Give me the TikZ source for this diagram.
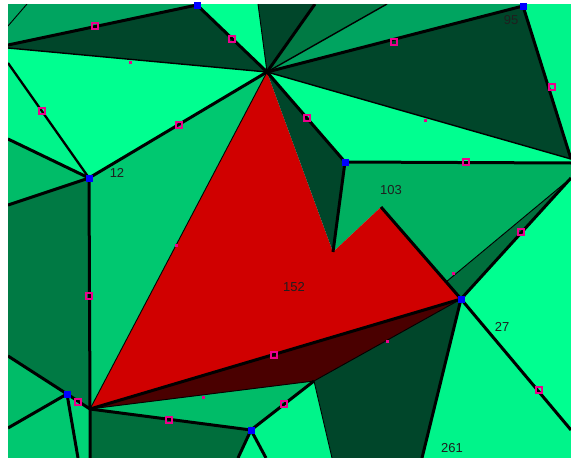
\documentclass[tikz,border=0pt]{standalone}
\usepackage{fontspec}
\setmainfont{Liberation Sans}
\definecolor{lg}{HTML}{00FF90}
\definecolor{lga}{HTML}{00F48A}
\definecolor{mg}{HTML}{00B060}
\definecolor{mga}{HTML}{00A460}
\definecolor{mgb}{HTML}{00C870}
\definecolor{mgc}{HTML}{00BC68}
\definecolor{dg}{HTML}{00462A}
\definecolor{dm}{HTML}{006E3C}
\definecolor{dmb}{HTML}{007A44}
\definecolor{redf}{HTML}{D00000}
\definecolor{dred}{HTML}{4A0000}
\begin{document}
\begin{tikzpicture}[x=1pt,y=-1pt,
  thickedge/.style={line width=3pt},
  medge/.style={line width=2.3pt},
  thinedge/.style={line width=1.4pt},
  hairedge/.style={line width=0.9pt},
  vtx/.style={rectangle,fill=blue,minimum size=7pt,inner sep=0pt},
  mk/.style={rectangle,draw=magenta,line width=2pt,minimum size=6pt,inner sep=0pt},
  mks/.style={rectangle,fill=magenta,minimum size=3pt,inner sep=0pt},
  lbl/.style={font=\fontsize{13}{13}\selectfont,text=black!88,inner sep=0pt}]
\useasboundingbox (0,0) rectangle (571,458);
\fill[white] (0,0) rectangle (571,458);
% vertices
\coordinate (A) at (267,72);
\coordinate (B) at (90,409);
\coordinate (C) at (461,299);
\coordinate (D) at (333,252);
\coordinate (E) at (381,207);
\coordinate (F) at (314,381);
\coordinate (G) at (345,162);
\coordinate (H) at (89,178);
\coordinate (I) at (197,5);
\coordinate (J) at (523,6);
\coordinate (K) at (67,394);
\coordinate (L) at (251,430);
\coordinate (P) at (446,282);
% border points
\coordinate (tl) at (8,4);
\coordinate (t1) at (27,4);
\coordinate (t2) at (258,4);
\coordinate (t3) at (315,4);
\coordinate (t4) at (387,4);
\coordinate (tr) at (571,4);
\coordinate (l1) at (8,26);
\coordinate (l2) at (8,45);
\coordinate (l3) at (8,48);
\coordinate (l4) at (8,63);
\coordinate (l5) at (8,139);
\coordinate (l6) at (8,205);
\coordinate (l7) at (8,356);
\coordinate (l8) at (8,428);
\coordinate (bl) at (8,458);
\coordinate (b1) at (78,458);
\coordinate (b2) at (90,458);
\coordinate (b3) at (238,458);
\coordinate (b4) at (266,458);
\coordinate (b5) at (332,458);
\coordinate (b6) at (422,458);
\coordinate (br) at (571,458);
\coordinate (r1) at (571,430);
\coordinate (r2) at (571,178);
\coordinate (r3) at (571,163);
\coordinate (r4) at (571,159);
\begin{scope}
\clip (8,4) rectangle (571,458);
% regions
\fill[mga] (tl) -- (t1) -- (l1) -- cycle;
\fill[mga] (t1) -- (197,4) -- (I) -- (l2) -- (l1) -- cycle;
\fill[dg] (l2) -- (I) -- (A) -- (l3) -- cycle;
\fill[lg] (I) -- (197,4) -- (t2) -- (A) -- cycle;
\fill[dg] (t2) -- (t3) -- (A) -- cycle;
\fill[dmb] (t3) -- (t4) -- (A) -- cycle;
\fill[mga] (t4) -- (523,4) -- (J) -- (A) -- cycle;
\fill[dg] (A) -- (J) -- (r4) -- cycle;
\fill[lga] (J) -- (523,4) -- (tr) -- (r4) -- cycle;
\fill[lg] (A) -- (r4) -- (r3) -- (G) -- cycle;
\fill[mg] (G) -- (r3) -- (r2) -- (P) -- (E) -- (D) -- cycle;
\fill[dm] (P) -- (r2) -- (C) -- cycle;
\fill[lg] (C) -- (r2) -- (r1) -- cycle;
\fill[lga] (C) -- (r1) -- (br) -- (b6) -- cycle;
\fill[dg] (F) -- (C) -- (b6) -- (b5) -- cycle;
\fill[lga] (L) -- (F) -- (b5) -- (b4) -- cycle;
\fill[mgc] (B) -- (F) -- (L) -- cycle;
\fill[dred] (B) -- (C) -- (F) -- cycle;
\fill[redf] (A) -- (B) -- (C) -- (E) -- (D) -- cycle;
\fill[dg] (A) -- (G) -- (D) -- cycle;
\fill[mgb] (A) -- (H) -- (B) -- cycle;
\fill[lg] (l3) -- (A) -- (H) -- (l4) -- cycle;
\fill[lga] (l4) -- (H) -- (l5) -- cycle;
\fill[mgc] (l5) -- (H) -- (l6) -- cycle;
\fill[dmb] (l6) -- (H) -- (B) -- (K) -- (l7) -- cycle;
\fill[mgc] (l7) -- (K) -- (l8) -- cycle;
\fill[mgb] (l8) -- (K) -- (b1) -- (bl) -- cycle;
\fill[mgb!80!lg] (K) -- (B) -- (b2) -- (b1) -- cycle;
\fill[dm] (B) -- (L) -- (b3) -- (b2) -- cycle;
\fill[lga] (b3) -- (L) -- (b4) -- cycle;
% thin edges
\draw[hairedge] (l1) -- (t1);
\draw[thinedge] (l3) -- (A);
\draw[hairedge] (A) -- (t2);
\draw[thinedge] (A) -- (t4);
\draw[thinedge] (A) -- (r4);
\draw[hairedge] (P) -- (r2);
\draw[hairedge] (F) -- (C);
\draw[hairedge] (B) -- (F);
\draw[hairedge] (F) -- (b5);
\draw[hairedge] (A) -- (B);
% thick edges
\draw[thickedge] (l2) -- (I) -- (A);
\draw[thickedge] (A) -- (t3);
\draw[thickedge] (A) -- (J) -- (r4);
\draw[thickedge] (A) -- (G) -- (r3);
\draw[thickedge] (G) -- (D);
\draw[thickedge] (E) -- (C);
\draw[thickedge] (r2) -- (C) -- (r1);
\draw[thickedge] (C) -- (b6);
\draw[thickedge] (B) -- (C);
\draw[thickedge] (A) -- (H);
\draw[medge] (H) -- (l4);
\draw[thickedge] (H) -- (l5);
\draw[thickedge] (H) -- (l6);
\draw[thickedge] (H) -- (B) -- (b2);
\draw[thickedge] (l7) -- (K) -- (l8);
\draw[thickedge] (K) -- (B);
\draw[thickedge] (K) -- (b1);
\draw[thickedge] (B) -- (L) -- (F);
\draw[thickedge] (b3) -- (L) -- (b4);
\end{scope}
% markers
\node[mk] (m1) at (95,26) {};
\node[mk] (m2) at (232,39) {};
\node[mks] (m3) at (130,62) {};
\node[mk] (m4) at (42,111) {};
\node[mk] (m5) at (179,125) {};
\node[mk] (m6) at (394,42) {};
\node[mk] (m7) at (552,87) {};
\node[mk] (m8) at (307,118) {};
\node[mks] (m9) at (425,120) {};
\node[mk] (m10) at (466,162) {};
\node[mk] (m11) at (521,232) {};
\node[mks] (m12) at (453,273) {};
\node[mks] (m13) at (176,245) {};
\node[mk] (m14) at (89,296) {};
\node[mk] (m15) at (78,402) {};
\node[mk] (m16) at (169,420) {};
\node[mks] (m17) at (203,397) {};
\node[mk] (m18) at (274,355) {};
\node[mks] (m19) at (387,341) {};
\node[mk] (m20) at (284,404) {};
\node[mk] (m21) at (539,390) {};
% blue vertices
\node[vtx] (vI) at (I) {};
\node[vtx] (vJ) at (J) {};
\node[vtx] (vH) at (H) {};
\node[vtx] (vG) at (G) {};
\node[vtx] (vC) at (C) {};
\node[vtx] (vK) at (K) {};
\node[vtx] (vL) at (L) {};
% labels
\node[lbl] (n95) at (511,20) {95};
\node[lbl] (n12) at (117,173) {12};
\node[lbl] (n103) at (391,190) {103};
\node[lbl] (n152) at (294,287) {152};
\node[lbl] (n27) at (502,327) {27};
\node[lbl] (n261) at (452,448) {261};
\end{tikzpicture}
\end{document}
